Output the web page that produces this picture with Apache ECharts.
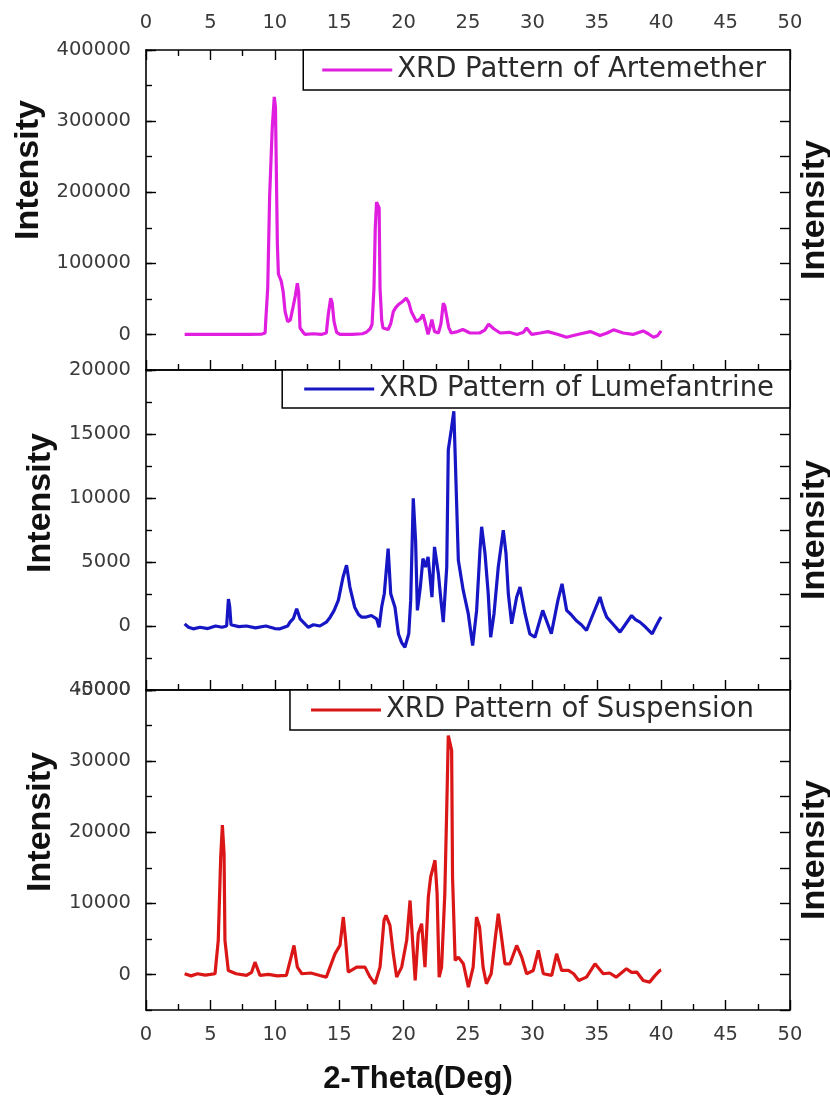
<!DOCTYPE html>
<html>
<head>
<meta charset="utf-8">
<script src="https://cdn.jsdelivr.net/npm/echarts@6/dist/echarts.min.js"></script>
<style>
  html, body { margin: 0; padding: 0; background: #fff; }
  #chart { width: 830px; height: 1102px; }
</style>
</head>
<body>
<div id="chart"></div>
<script>
// 2-theta ticks (shared by all three panels)
const thetaTicks = [0, 5, 10, 15, 20, 25, 30, 35, 40, 45, 50];

// y axis ranges
const artRange = { min: -50000, max: 400000, major: 100000, minor: 50000 };
const lumRange = { min: -5000, max: 20000, major: 5000, minor: 2500 };
const susRange = { min: -5000, max: 40000, major: 10000, minor: 5000 };

// [2-theta, intensity]
const artemether = [
  [3.0, 0], [4.0, 0], [5.0, 0], [6.0, 0], [7.0, 0], [8.0, 0], [9.0, 500], [9.25, 2000],
  [9.3, 20000], [9.45, 65000], [9.6, 195000], [9.8, 290000], [9.96, 334000], [10.05, 320000],
  [10.2, 127000], [10.28, 85000], [10.5, 75000], [10.65, 60000], [10.8, 32000], [11.0, 18000],
  [11.2, 20000], [11.4, 37000], [11.6, 55000], [11.75, 72000], [11.85, 60000], [11.96, 9000],
  [12.2, 3000], [12.35, 0], [13.0, 1000], [13.6, 0], [14.0, 2000], [14.15, 28000], [14.34, 51000],
  [14.45, 45000], [14.6, 18000], [14.8, 3000], [15.06, 0], [16.0, 0], [16.8, 1000], [17.1, 3000],
  [17.4, 8000], [17.55, 14000], [17.7, 65000], [17.8, 150000], [17.9, 186000], [18.1, 178000],
  [18.17, 65000], [18.3, 20000], [18.4, 9000], [18.8, 7000], [19.0, 15000], [19.2, 32000],
  [19.4, 38000], [19.6, 42000], [19.9, 46000], [20.2, 51000], [20.4, 45000], [20.6, 32000],
  [21.0, 18000], [21.3, 22000], [21.5, 28000], [21.7, 15000], [21.9, 0], [22.05, 10000],
  [22.2, 21000], [22.4, 4000], [22.7, 2000], [22.9, 15000], [23.08, 44000], [23.2, 40000],
  [23.35, 25000], [23.5, 10000], [23.7, 2000], [24.2, 4000], [24.6, 7000], [25.15, 2000],
  [25.9, 2000], [26.3, 6000], [26.6, 14500], [27.0, 8000], [27.5, 2000], [28.2, 3000], [28.8, 0],
  [29.3, 3000], [29.55, 9000], [29.95, 0], [30.6, 2000], [31.2, 4000], [32.0, 0], [32.65, -4000],
  [33.5, 0], [34.5, 4000], [35.25, -1500], [35.8, 2000], [36.3, 6500], [37.05, 2000], [37.8, 0],
  [38.6, 5000], [39.0, 1000], [39.4, -4000], [39.7, -2000], [40.0, 5000]
];

const lumefantrine = [
  [3.0, 170], [3.3, -100], [3.67, -220], [4.2, -100], [4.8, -200], [5.4, 0], [5.9, -100],
  [6.26, 0], [6.4, 2100], [6.5, 1500], [6.6, 100], [7.2, -50], [7.8, 0], [8.5, -150], [9.3, 0],
  [10.0, -200], [10.4, -220], [11.0, 0], [11.18, 300], [11.45, 600], [11.7, 1350], [11.96, 560],
  [12.3, 200], [12.6, -100], [13.0, 100], [13.5, 0], [14.0, 300], [14.3, 690], [14.6, 1200],
  [14.93, 2000], [15.3, 3830], [15.57, 4750], [15.83, 3040], [16.2, 1470], [16.5, 900],
  [16.75, 690], [17.1, 700], [17.5, 820], [17.9, 560], [18.1, -100], [18.3, 1500], [18.5, 2520],
  [18.8, 6050], [19.0, 2520], [19.33, 1470], [19.6, -620], [19.85, -1300], [20.1, -1660],
  [20.4, -610], [20.55, 2000], [20.75, 9980], [20.93, 6700], [21.07, 1220], [21.3, 3040],
  [21.5, 5270], [21.7, 4610], [21.9, 5400], [22.2, 2260], [22.4, 6180], [22.7, 4090], [22.9, 2000],
  [23.08, 300], [23.35, 4610], [23.47, 13760], [23.7, 15330], [23.9, 16770], [24.07, 11150],
  [24.25, 5140], [24.63, 2780], [25.02, 960], [25.36, -1530], [25.67, 1220], [25.93, 5920],
  [26.06, 7750], [26.32, 5660], [26.57, 2520], [26.76, -880], [27.02, 960], [27.35, 4610],
  [27.74, 7490], [27.95, 5660], [28.13, 2520], [28.39, 170], [28.78, 2260], [29.04, 3040],
  [29.43, 960], [29.8, -610], [30.2, -880], [30.8, 1220], [31.47, -610], [31.98, 2000],
  [32.3, 3300], [32.66, 1220], [33.0, 900], [33.4, 430], [33.8, 100], [34.2, -350], [34.7, 900],
  [35.25, 2260], [35.5, 1400], [35.77, 690], [36.3, 100], [36.8, -480], [37.2, 100], [37.7, 820],
  [38.0, 500], [38.35, 300], [38.8, -100], [39.3, -610], [39.6, 0], [39.9, 560], [40.0, 700]
];

const suspension = [
  [3.0, 100], [3.5, -200], [4.0, 100], [4.6, -100], [5.0, 0], [5.36, 100], [5.61, 4800],
  [5.8, 16500], [5.93, 21000], [6.06, 17000], [6.13, 4800], [6.39, 560], [7.0, 100], [7.8, -140],
  [8.2, 300], [8.46, 1730], [8.85, -140], [9.5, 0], [10.2, -200], [10.9, -140], [11.3, 2680],
  [11.49, 4080], [11.75, 1030], [12.1, 100], [12.8, 200], [13.5, -140], [14.0, -380],
  [14.67, 2900], [15.06, 4080], [15.32, 8070], [15.5, 4800], [15.7, 330], [16.36, 1030],
  [17.0, 1030], [17.4, -380], [17.78, -1310], [18.17, 1030], [18.48, 7600], [18.63, 8300],
  [18.94, 6900], [19.2, 2900], [19.46, -380], [19.85, 1030], [20.24, 4800], [20.5, 10400],
  [20.68, 5260], [20.9, -850], [21.14, 5730], [21.4, 7140], [21.66, 1030], [21.92, 10900],
  [22.1, 13700], [22.44, 16060], [22.6, 11370], [22.76, -380], [22.95, 1030], [23.2, 11370],
  [23.34, 22600], [23.47, 33600], [23.73, 31500], [23.8, 13700], [24.0, 1970], [24.25, 2440],
  [24.64, 1500], [25.03, -1790], [25.4, 1030], [25.66, 8070], [25.9, 6660], [26.17, 1030],
  [26.43, -1310], [26.8, 100], [27.1, 4800], [27.35, 8540], [27.6, 5260], [27.87, 1500],
  [28.26, 1500], [28.78, 4080], [29.17, 2440], [29.55, 100], [30.07, 560], [30.46, 3380],
  [30.85, 100], [31.5, -140], [31.88, 2900], [32.27, 560], [32.8, 560], [33.2, 100], [33.6, -850],
  [34.2, -380], [34.86, 1500], [35.5, 100], [36.0, 200], [36.5, -380], [37.3, 800], [37.7, 300],
  [38.1, 330], [38.6, -850], [39.1, -1080], [39.5, -200], [39.9, 560], [40.0, 600]
];

const names = ['XRD Pattern of Artemether', 'XRD Pattern of Lumefantrine', 'XRD Pattern of Suspension'];
const colors = ['#e01ee0', '#1616c4', '#da1616'];

const chart = echarts.init(document.getElementById('chart'));

const tickFont = { fontFamily: 'DejaVu Sans', fontSize: 19.5, color: '#3a3a3a' };
const axisLine = { show: true, onZero: false, lineStyle: { color: '#000', width: 1.6 } };

const grids = [
  { left: 146, width: 644, top: 50, height: 320, outerBoundsMode: 'none' },
  { left: 146, width: 644, top: 370, height: 320, outerBoundsMode: 'none' },
  { left: 146, width: 644, top: 690, height: 320, outerBoundsMode: 'none' }
];

function xAxis(gi, pos, opts) {
  return Object.assign({
    type: 'value', gridIndex: gi, position: pos, min: 0, max: 50, interval: 5,
    axisLine: axisLine, splitLine: { show: false },
    axisTick: { show: true, inside: true, length: 10, lineStyle: { color: '#000', width: 1.4 } },
    minorTick: { show: true, splitNumber: 2, length: 6, lineStyle: { color: '#000', width: 1.4 } },
    axisLabel: { show: false }
  }, opts);
}

const xAxes = [
  xAxis(0, 'bottom'),
  xAxis(0, 'top', { axisLabel: Object.assign({ show: true, margin: 17, customValues: thetaTicks }, tickFont) }),
  xAxis(1, 'bottom'),
  xAxis(1, 'top', { axisTick: { show: false }, minorTick: { show: false } }),
  xAxis(2, 'bottom', {
    axisLabel: Object.assign({ show: true, margin: 15, customValues: thetaTicks }, tickFont),
    name: '2-Theta(Deg)', nameLocation: 'middle', nameGap: 54,
    nameTextStyle: { fontFamily: 'Liberation Sans', fontWeight: 'bold', fontSize: 31, color: '#111', padding: [0, 100, 0, 0] }
  }),
  xAxis(2, 'top', { axisTick: { show: false }, minorTick: { show: false } })
];

const ranges = [artRange, lumRange, susRange];
const nameShift = [80, 54, 56];
const yAxes = [];
ranges.forEach(function (r, gi) {
  const majors = [];
  for (let v = Math.ceil(r.min / r.major) * r.major; v <= r.max; v += r.major) majors.push(v);
  // left: labels and long ticks
  yAxes.push({
    type: 'value', gridIndex: gi, position: 'left', min: r.min, max: r.max, interval: r.minor,
    axisLine: axisLine, splitLine: { show: false },
    axisTick: { show: true, inside: true, length: 10, customValues: majors, lineStyle: { color: '#000', width: 1.4 } },
    axisLabel: Object.assign({
      margin: 15, customValues: majors,
      formatter: function (v) { return v % r.major === 0 ? String(v) : ''; }
    }, tickFont),
    name: 'Intensity', nameLocation: 'middle', nameGap: 76, nameRotate: 90,
    nameTextStyle: { fontFamily: 'Liberation Sans', fontWeight: 'bold', fontSize: 34, color: '#111', padding: [0, 0, 0, nameShift[gi]] }
  });
  // left: short ticks
  yAxes.push({
    type: 'value', gridIndex: gi, position: 'left', min: r.min, max: r.max, interval: r.minor,
    axisLine: { show: false }, splitLine: { show: false }, axisLabel: { show: false },
    axisTick: { show: true, inside: true, length: 6, lineStyle: { color: '#000', width: 1.4 } }
  });
  // right: ticks and name
  yAxes.push({
    type: 'value', gridIndex: gi, position: 'right', min: r.min, max: r.max, interval: r.minor,
    axisLine: axisLine, splitLine: { show: false }, axisLabel: { show: false },
    axisTick: { show: true, inside: true, length: 10, lineStyle: { color: '#000', width: 1.4 } },
    name: 'Intensity', nameLocation: 'middle', nameGap: 8, nameRotate: 90,
    nameTextStyle: { fontFamily: 'Liberation Sans', fontWeight: 'bold', fontSize: 34, color: '#111' }
  });
});

const seriesData = [artemether, lumefantrine, suspension];
const series = seriesData.map(function (d, i) {
  return {
    name: names[i], type: 'line', data: d, xAxisIndex: i * 2, yAxisIndex: i * 3,
    symbol: 'none', lineStyle: { color: colors[i], width: 3.2 }, itemStyle: { color: colors[i] },
    animation: false
  };
});

const legendTops = [50, 370, 690];
const legendPads = [[5, 24, 5, 19], [4, 16, 4, 22], [5, 36, 5, 21]];
const legends = names.map(function (n, i) {
  return {
    data: [{ name: n, icon: 'rect' }], right: 40, top: legendTops[i], orient: 'horizontal',
    backgroundColor: '#fff', borderColor: '#000', borderWidth: 1.5, borderRadius: 0,
    padding: legendPads[i], itemWidth: 70, itemHeight: 3,
    itemStyle: { color: colors[i] },
    textStyle: { fontFamily: 'DejaVu Sans', fontSize: 27.5, color: '#2a2a2a', lineHeight: 30 }
  };
});

chart.setOption({
  backgroundColor: '#fff',
  animation: false,
  grid: grids,
  xAxis: xAxes,
  yAxis: yAxes,
  legend: legends,
  series: series
});
</script>
</body>
</html>
